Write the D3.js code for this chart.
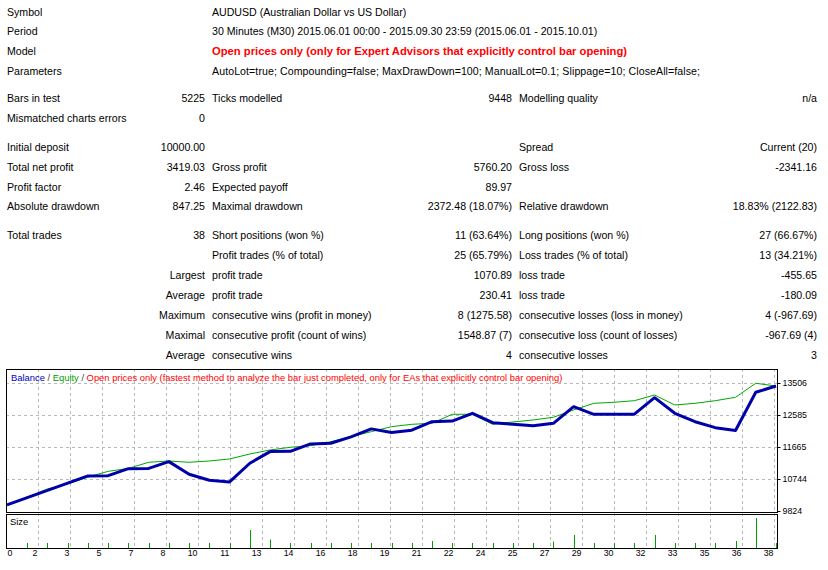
<!DOCTYPE html>
<html>
<head>
<meta charset="utf-8">
<script src="https://cdn.jsdelivr.net/npm/d3@7"></script>
<style>
body { margin: 0; background: #fff; }
svg text { font-family: "Liberation Sans", Arial, sans-serif; }
.cell { font-size: 10.6px; fill: #000; }
.model { font-weight: bold; fill: #ff0000; }
.chart-lbl { font-size: 8.8px; fill: #000; }
.legend { font-size: 9.4px; }
.grid { stroke: #b8b8b8; stroke-dasharray: 3,3; shape-rendering: crispEdges; }
</style>
</head>
<body>
<svg id="report" width="828" height="570"></svg>
<script>
// report header
var headLabels = ["Symbol", "Period", "Model", "Parameters"];
var headValues = [
	"AUDUSD (Australian Dollar vs US Dollar)",
	"30 Minutes (M30) 2015.06.01 00:00 - 2015.09.30 23:59 (2015.06.01 - 2015.10.01)",
	"Open prices only (only for Expert Advisors that explicitly control bar opening)",
	"AutoLot=true; Compounding=false; MaxDrawDown=100; ManualLot=0.1; Slippage=10; CloseAll=false;"
];

// stats table: label, value, label, value, label, value
var statRows = [
	["Bars in test", "5225", "Ticks modelled", "9448", "Modelling quality", "n/a"],
	["Mismatched charts errors", "0", "", "", "", ""],
	["Initial deposit", "10000.00", "", "", "Spread", "Current (20)"],
	["Total net profit", "3419.03", "Gross profit", "5760.20", "Gross loss", "-2341.16"],
	["Profit factor", "2.46", "Expected payoff", "89.97", "", ""],
	["Absolute drawdown", "847.25", "Maximal drawdown", "2372.48 (18.07%)", "Relative drawdown", "18.83% (2122.83)"],
	["Total trades", "38", "Short positions (won %)", "11 (63.64%)", "Long positions (won %)", "27 (66.67%)"],
	["", "", "Profit trades (% of total)", "25 (65.79%)", "Loss trades (% of total)", "13 (34.21%)"],
	["", "Largest", "profit trade", "1070.89", "loss trade", "-455.65"],
	["", "Average", "profit trade", "230.41", "loss trade", "-180.09"],
	["", "Maximum", "consecutive wins (profit in money)", "8 (1275.58)", "consecutive losses (loss in money)", "4 (-967.69)"],
	["", "Maximal", "consecutive profit (count of wins)", "1548.87 (7)", "consecutive loss (count of losses)", "-967.69 (4)"],
	["", "Average", "consecutive wins", "4", "consecutive losses", "3"]
];

// curves, one point per closed trade (0 = start)
var tradeNo = [0,1,2,3,4,5,6,7,8,9,10,11,12,13,14,15,16,17,18,19,20,21,22,23,24,25,26,27,28,29,30,31,32,33,34,35,36,37,38];
var balance = [10000,10208,10417,10625,10834,10840,11042,11048,11244,10880,10708,10659,11198,11532,11540,11753,11773,11955,12186,12080,12150,12393,12410,12635,12364,12318,12278,12347,12825,12606,12606,12610,13084,12635,12393,12221,12140,13239,13419];
var equity  = [10000,10220,10458,10600,10800,10965,11050,11225,11263,11225,11263,11320,11464,11579,11657,11703,11818,11962,12106,12250,12318,12347,12606,12606,12318,12385,12443,12520,12731,12922,12951,12997,13161,12874,12922,12997,13095,13498,13419];
var lotSize = [0,0.1,0.1,0.1,0.1,0.1,0.1,0.1,0.1,0.1,0.1,0.1,0.36,0.17,0.1,0.1,0.1,0.1,0.1,0.1,0.1,0.14,0.1,0.1,0.1,0.1,0.1,0.13,0.26,0.1,0.1,0.1,0.26,0.1,0.1,0.1,0.14,0.6,0.1];

var yTicks = [9824, 10744, 11665, 12585, 13506];
var xTickLabels = ["0","2","3","5","7","8","10","11","13","14","16","18","19","21","22","24","25","27","29","30","32","33","35","36","38"];

var rowY = [12, 31, 51, 71, 98, 118, 147, 167, 187, 206, 235, 255, 275, 295, 315, 335, 355];

var svg = d3.select("#report");

drawHeader();
drawStats();
drawChart();

function drawHeader() {
	headLabels.forEach(function(lbl, i) {
		svg.append("text")
			.attr("class", "cell")
			.attr("x", 7)
			.attr("y", rowY[i] + 4)
			.text(lbl);
		var t = svg.append("text")
			.attr("class", i == 2 ? "cell model" : "cell")
			.attr("x", 212)
			.attr("y", rowY[i] + 4)
			.text(headValues[i]);
		// bold tahoma runs wider than the fallback font
		if (i == 2) t.attr("textLength", 415).attr("lengthAdjust", "spacingAndGlyphs");
		if (i == 3) t.attr("textLength", 488).attr("lengthAdjust", "spacing");
	});
}

function drawStats() {
	// x position and anchor of each column
	var cols = [[7, "start"], [205, "end"], [212, "start"], [512, "end"], [519, "start"], [817, "end"]];
	statRows.forEach(function(row, r) {
		row.forEach(function(txt, c) {
			if (txt == "") return;
			svg.append("text")
				.attr("class", "cell")
				.attr("x", cols[c][0])
				.attr("y", rowY[r + 4] + 4)
				.style("text-anchor", cols[c][1])
				.text(txt);
		});
	});
}

function drawChart() {
	var left = 6, right = 777, top = 369, bottom = 512;
	var sizeTop = 514, sizeBottom = 548;

	var x = d3.scaleLinear().domain([0, 38]).range([7, 776]);
	var y = d3.scaleLinear().domain([9824, 13506]).range([511, 383]);
	var ys = d3.scaleLinear().domain([0, 0.6]).range([sizeBottom, sizeBottom - 30]);
	var xg = d3.scaleLinear().domain([0, xTickLabels.length - 1]).range([6, 774]);

	// vertical grid through both panels
	var gx = d3.range(1, xTickLabels.length);
	svg.selectAll(".vgrid").data(gx).enter().append("line")
		.attr("class", "grid")
		.attr("x1", function(d) { return xg(d) + 0.5; })
		.attr("x2", function(d) { return xg(d) + 0.5; })
		.attr("y1", top)
		.attr("y2", sizeBottom);

	svg.selectAll(".hgrid").data(yTicks.slice(1)).enter().append("line")
		.attr("class", "grid")
		.attr("x1", left)
		.attr("x2", right)
		.attr("y1", function(d) { return Math.round(y(d)) + 0.5; })
		.attr("y2", function(d) { return Math.round(y(d)) + 0.5; });

	// white gap between the two panels
	svg.append("rect")
		.attr("x", left).attr("y", bottom + 0.5)
		.attr("width", right - left).attr("height", sizeTop - bottom - 1)
		.attr("fill", "#fff");

	// size bars
	svg.selectAll(".lot").data(tradeNo.slice(1)).enter().append("line")
		.attr("x1", function(d) { return Math.round(x(d)) + 0.5; })
		.attr("x2", function(d) { return Math.round(x(d)) + 0.5; })
		.attr("y1", sizeBottom)
		.attr("y2", function(d) { return ys(lotSize[d]); })
		.attr("stroke", "#00a000")
		.attr("stroke-width", 1);

	var eqLine = d3.line()
		.x(function(d) { return x(d); })
		.y(function(d) { return y(equity[d]); });
	var balLine = d3.line()
		.x(function(d) { return x(d); })
		.y(function(d) { return y(balance[d]); });

	svg.append("path")
		.attr("d", eqLine(tradeNo))
		.attr("fill", "none")
		.attr("stroke", "#00a800")
		.attr("stroke-width", 1);

	svg.append("path")
		.attr("d", balLine(tradeNo))
		.attr("fill", "none")
		.attr("stroke", "#0000a8")
		.attr("stroke-width", 3)
		.attr("stroke-linejoin", "round");

	// panel borders
	svg.append("rect")
		.attr("x", left + 0.5).attr("y", top + 0.5)
		.attr("width", right - left).attr("height", bottom - top)
		.attr("fill", "none").attr("stroke", "#000");
	svg.append("rect")
		.attr("x", left + 0.5).attr("y", sizeTop + 0.5)
		.attr("width", right - left).attr("height", sizeBottom - sizeTop)
		.attr("fill", "none").attr("stroke", "#000");

	// right value axis
	var yAxis = d3.axisRight(y).tickValues(yTicks).tickFormat(d3.format("d")).tickSize(3).tickPadding(2);
	var ga = svg.append("g")
		.attr("transform", "translate(" + (right + 0.5) + ",0)")
		.call(yAxis);
	ga.select(".domain").remove();
	ga.selectAll("text").attr("class", "chart-lbl").attr("fill", "#000");

	// bottom trade axis
	var xAxis = d3.axisBottom(xg)
		.tickValues(d3.range(xTickLabels.length))
		.tickFormat(function(i) { return xTickLabels[i]; })
		.tickSize(0).tickPadding(0);
	var gb = svg.append("g")
		.attr("transform", "translate(0," + (sizeBottom + 2) + ")")
		.call(xAxis);
	gb.select(".domain").remove();
	gb.selectAll("text")
		.attr("class", "chart-lbl")
		.attr("fill", "#000")
		.attr("dy", "0.71em")
		.attr("x", function(i) { return i == 0 ? 1 : -1; })
		.style("text-anchor", function(i) { return i == 0 ? "start" : "end"; });

	// legend
	var leg = svg.append("text")
		.attr("class", "chart-lbl legend")
		.attr("x", 11)
		.attr("y", 381);
	leg.append("tspan").attr("fill", "#0000c0").text("Balance");
	leg.append("tspan").attr("fill", "#404040").text(" / ");
	leg.append("tspan").attr("fill", "#00a000").text("Equity");
	leg.append("tspan").attr("fill", "#404040").text(" / ");
	leg.append("tspan").attr("fill", "#ff0000")
		.text("Open prices only (fastest method to analyze the bar just completed, only for EAs that explicitly control bar opening)");

	// small "Size" caption
	svg.append("text")
		.attr("class", "chart-lbl legend")
		.attr("x", 10)
		.attr("y", 525)
		.text("Size");
}
</script>
</body>
</html>
